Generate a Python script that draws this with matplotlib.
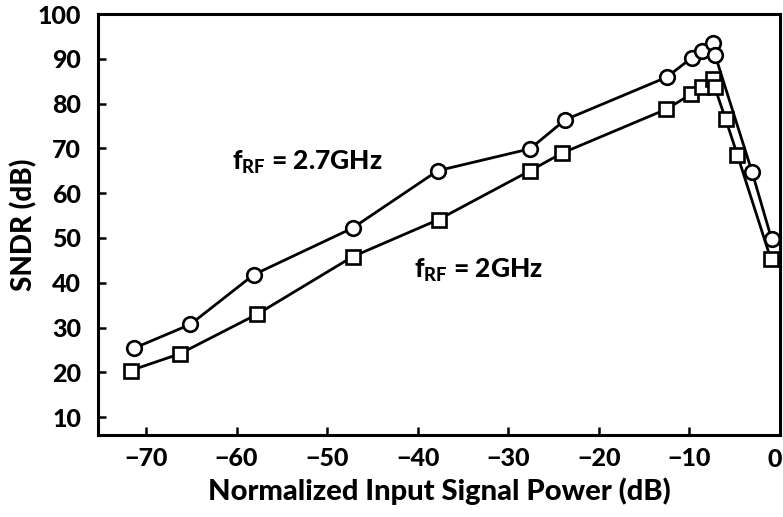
import matplotlib
matplotlib.use("Agg")
import matplotlib.pyplot as plt
import matplotlib.transforms as mtransforms

# Data: 2.7 GHz (circles)
x_27 = [-71.3, -65.1, -58.1, -47.2, -37.8, -27.6, -23.7, -12.5, -9.76, -8.56, -7.37, -7.16, -3.08, -0.92]
y_27 = [25.4, 30.7, 41.8, 52.2, 65.0, 69.9, 76.4, 85.9, 90.2, 91.8, 93.6, 90.8, 64.7, 49.7]
# Data: 2 GHz (squares)
x_2 = [-71.7, -66.3, -57.7, -47.2, -37.7, -27.6, -24.1, -12.6, -9.8, -8.6, -7.4, -7.2, -6.0, -4.7, -1.0]
y_2 = [20.4, 24.1, 33.0, 45.8, 54.1, 65.0, 68.9, 78.7, 82.1, 83.8, 85.5, 83.6, 76.5, 68.5, 45.2]

xticks = [-70, -60, -50, -40, -30, -20, -10, 0]
xticklabels = ['\u221270', '\u221260', '\u221250', '\u221240', '\u221230', '\u221220', '\u221210', '0']
yticks = [10, 20, 30, 40, 50, 60, 70, 80, 90, 100]

W = 900
plt.rcParams['font.family'] = ['Lato', 'DejaVu Sans']
plt.rcParams['font.weight'] = W
plt.rcParams['mathtext.fontset'] = 'custom'
plt.rcParams['mathtext.rm'] = 'Lato:black'
plt.rcParams['mathtext.it'] = 'Lato:black'
plt.rcParams['mathtext.bf'] = 'Lato:black'

fig = plt.figure(figsize=(7.83, 5.17), dpi=100)
ax = fig.add_axes([98/783, (517-435)/517, (780-98)/783, (435-14)/517])

ax.plot(x_27, y_27, color='black', lw=2.0, marker='o', ms=10.5, mfc='white', mec='black', mew=1.9)
ax.plot(x_2, y_2, color='black', lw=2.0, marker='s', ms=9.5, mfc='white', mec='black', mew=1.9)

ax.set_xlim(-75.3, 0)
ax.set_ylim(6, 100)
ax.set_xticks(xticks)
ax.set_xticklabels(xticklabels[:-1] + [''])
ax.set_yticks(yticks)
ax.tick_params(direction='in', length=6, width=1.8, labelsize=18)
ax.tick_params(axis='x', pad=9)
ax.tick_params(axis='y', pad=12)
for lab in ax.get_xticklabels() + ax.get_yticklabels():
    lab.set_fontweight(W)
# last x tick label, kept inside the figure edge
trans = mtransforms.blended_transform_factory(ax.transData, ax.transAxes)
ax.text(xticks[-1], 0, xticklabels[-1], transform=trans + mtransforms.ScaledTranslation(2/100, -13/100, fig.dpi_scale_trans),
        ha='right', va='top', fontsize=18, fontweight=W, clip_on=False)
for s in ['left', 'bottom', 'top', 'right']:
    ax.spines[s].set_linewidth(2.2)

ax.set_xlabel('Normalized Input Signal Power (dB)', fontsize=21, fontweight=W, labelpad=5)
ax.set_ylabel('SNDR (dB)', fontsize=20, fontweight=W)
ax.yaxis.set_label_coords(-0.089, 0.5)

ax.text(-60.5, 65.2, r'f$\mathregular{_{RF}}$ = 2.7GHz', fontsize=19, fontweight=W, va='baseline', ha='left')
ax.text(-40.4, 41.1, r'f$\mathregular{_{RF}}$ = 2GHz', fontsize=19, fontweight=W, va='baseline', ha='left')

fig.savefig('out.png', dpi=100)
